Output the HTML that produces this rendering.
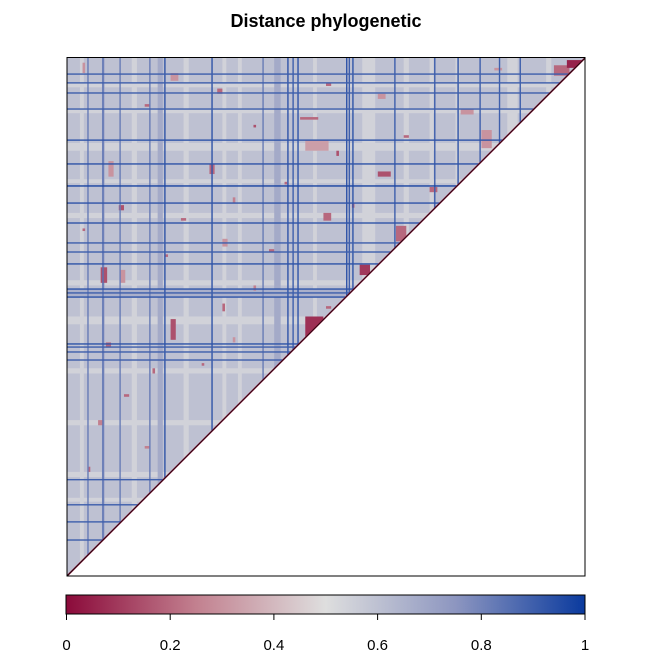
<!DOCTYPE html>
<html><head><meta charset="utf-8"><style>
body{margin:0;background:#fff;}
svg{display:block;font-family:"Liberation Sans",sans-serif;}
</style></head><body>
<svg id="chart" width="653" height="653" viewBox="0 0 653 653">
<text x="326" y="27" text-anchor="middle" font-size="18" font-weight="bold">Distance phylogenetic</text>
<defs>
<clipPath id="tri"><polygon points="67,57.5 585,57.5 67,576"/></clipPath>
<linearGradient id="cg" x1="0" x2="1" y1="0" y2="0">
<stop offset="0" stop-color="#8b0a3a"/><stop offset="0.25" stop-color="#c2808f"/>
<stop offset="0.5" stop-color="#dedede"/><stop offset="0.75" stop-color="#8d96c0"/>
<stop offset="1" stop-color="#0a3a9e"/></linearGradient>
</defs>
<g id="cells" clip-path="url(#tri)"></g>
<line x1="67" y1="576" x2="585" y2="58" stroke="#8b1a3a" stroke-width="1.6"/>
<line x1="67" y1="576" x2="585" y2="58" stroke="#000" stroke-width="0.6"/>
<rect x="67" y="57.5" width="518" height="518.5" fill="none" stroke="#000" stroke-width="1"/>
<g>
<rect x="66" y="595" width="519" height="19" fill="url(#cg)" stroke="#000" stroke-width="1"/>
<g id="cbticks"></g>
</g>
</svg>
<script>
const N = 200;
const baseValue = 0.6;
// pale (near 0.5) column bands: [col, width]
const paleCols = [[5,1.5],[25,2],[45,2],[60,1.5],[66,1.5],[95,1.5],[114,5],[130,2],[150,1.5],[170,4],[185,2],[140,1.5]];
const paleRows = [[10,1.5],[20,1.5],[33,3],[47,1.5],[60,2],[86,2],[100,3],[120,2],[140,2],[160,2],[170,1.5]];
const paleValue = 0.54;
// wider medium-blue bands: [index, width, value]
const bandCols = [[35,2,0.68],[80,2.5,0.68],[13.5,1,0.7]];
const bandRows = [[89.5,3,0.66]];
// red/pink blocks: [row, col, h, w, value]
const redBlocks = [
 [100,92,9,7,0.08],[81,13,6,2.5,0.15],[82,20.5,5,2,0.3],[101,40,8,2,0.15],
 [32,92,4,9,0.33],[41,55,4,2,0.2],[23,90,1,7,0.2],[80,113,4,4,0.1],
 [65,127,6,4,0.2],[20,152,2,5,0.3],[28,160,7,4,0.3],[3,188,4,6,0.2],
 [1,193,3,6,0.05],[50,140,2,3,0.2],[40,16,6,2,0.3],[57,20,2,2,0.15],
 [110,15,2,2,0.2],[120,33,2,1,0.2],[140,12,2,2,0.25],[60,99,3,3,0.2],
 [12,58,2,2,0.2],[6,40,3,3,0.3],[70,60,3,2,0.3],[95,60,3,1,0.2],
 [44,120,2,5,0.15],[14,120,2,3,0.3],[36,104,2,1,0.15],[106,115,3,2,0.2],
 [2,6,4,1,0.3],[18,30,1,2,0.2],[26,72,1,1,0.15],[48,84,1,1,0.2],[54,64,2,1,0.25],
 [62,44,1,2,0.2],[74,78,1,2,0.2],[88,72,2,1,0.25],[96,100,1,2,0.2],[118,52,1,1,0.2],
 [130,22,1,2,0.2],[150,30,1,2,0.25],[158,8,2,1,0.2],[66,6,1,1,0.2],[30,130,1,2,0.2],
 [10,100,1,2,0.2],[4,165,1,3,0.3],[56,110,2,1,0.2],[76,38,1,1,0.2],[108,64,2,1,0.3]];
// strong blue lines: [index, value]
const lineRows = [[6.4,0.9],[9.8,0.9],[13.7,0.9],[19.9,0.9],[31.9,0.93],[41.1,0.93],[49.6,0.97],[56.2,0.93],[63.9,0.93],[71.6,0.9],[75.1,0.9],[79.7,0.93],[89.4,0.93],[90.9,0.9],[92.5,0.93],[110.6,0.93],[111.8,0.9],[113.7,0.9],[116.8,0.9],[163,0.9],[172.7,0.9],[179.3,0.9],[186.3,0.9]];
const lineCols = [[8.1,0.82],[13.9,0.85],[20.5,0.82],[32,0.82],[37.8,0.93],[56,0.93],[75.7,0.82],[85.3,0.93],[87.3,0.9],[89.2,0.93],[108,0.93],[109,0.9],[110.4,0.93],[126.6,0.9],[142,0.9],[151,0.93],[159.5,0.9],[167,0.9],[175,0.9]];
const cbTicks = [0,0.2,0.4,0.6,0.8,1];

const X0=67,Y0=57.5,S=518/N;
const xs = c => X0 + c*S;
const ys = r => Y0 + r*S;
function lerp(a,b,t){return a.map((v,i)=>Math.round(v+(b[i]-v)*t));}
function color(v){
 const st=[[0,[139,10,58]],[0.25,[194,128,143]],[0.5,[222,222,222]],[0.75,[141,150,192]],[1,[10,58,158]]];
 for(let i=0;i<st.length-1;i++){ if(v<=st[i+1][0]){const t=(v-st[i][0])/(st[i+1][0]-st[i][0]);const c=lerp(st[i][1],st[i+1][1],t);return `rgb(${c[0]},${c[1]},${c[2]})`;}}
 return 'rgb(10,58,158)';
}
const ns='http://www.w3.org/2000/svg';
const g=document.getElementById('cells');
function rect(x,y,w,h,fill,name){
 const r=document.createElementNS(ns,'rect');
 r.setAttribute('x',x);r.setAttribute('y',y);r.setAttribute('width',w);r.setAttribute('height',h);r.setAttribute('fill',fill);
 
 
 g.appendChild(r);
}
rect(X0,Y0,518,518.5,color(baseValue),'heatmap-base');
paleCols.forEach(p=>rect(xs(p[0]),Y0,p[1]*S,518.5,color(paleValue),'pale-column'));
paleRows.forEach(p=>rect(X0,ys(p[0]),518,p[1]*S,color(paleValue),'pale-row'));
bandCols.forEach(p=>rect(xs(p[0]),Y0,p[1]*S,518.5,color(p[2]),'band-column'));
bandRows.forEach(p=>rect(X0,ys(p[0]),518,p[1]*S,color(p[2]),'band-row'));
redBlocks.forEach(b=>rect(xs(b[1]),ys(b[0]),b[3]*S,b[2]*S,color(b[4]),'red-block'));
lineCols.forEach(l=>rect(xs(l[0])-0.7,Y0,1.4,518.5,color(l[1]),'blue-column-line'));
lineRows.forEach(l=>rect(X0,ys(l[0])-0.7,518,1.4,color(l[1]),'blue-row-line'));
const tk=document.getElementById('cbticks');
cbTicks.forEach(t=>{
 const x=66.5+t*518.5;
 const l=document.createElementNS(ns,'line');
 l.setAttribute('x1',x);l.setAttribute('x2',x);l.setAttribute('y1',614);l.setAttribute('y2',620);l.setAttribute('stroke','#000');
 
 
 tk.appendChild(l);
 const tx=document.createElementNS(ns,'text');
 tx.setAttribute('x',x);tx.setAttribute('y',650);tx.setAttribute('text-anchor','middle');tx.setAttribute('font-size','15');
 tx.textContent=String(t);
 
 
 tk.appendChild(tx);
});
</script>
</body></html>
